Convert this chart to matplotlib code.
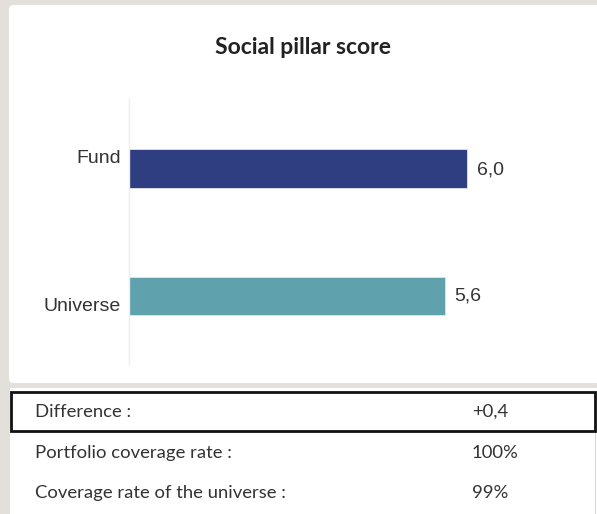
import matplotlib
matplotlib.use("Agg")
import matplotlib.pyplot as plt
from matplotlib.patches import Rectangle, FancyBboxPatch

categories = ["Fund", "Universe"]
values = [6.0, 5.6]
value_labels = ["6,0", "5,6"]
colors = ["#2f3e80", "#60a1ae"]
title = "Social pillar score"
table_labels = ["Difference :", "Portfolio coverage rate :", "Coverage rate of the universe :"]
table_values = ["+0,4", "100%", "99%"]

W, H = 597, 514
fig = plt.figure(figsize=(W / 100, H / 100), dpi=100)
fig.patch.set_facecolor("#e3dfdb")

def fx(px):
    return px / W

def fy(py):
    return 1 - py / H

# white card
fig.patches.append(FancyBboxPatch((fx(9), fy(383)), fx(620) - fx(9), fy(5) - fy(383),
                                  boxstyle="round,pad=0,rounding_size=0.008",
                                  transform=fig.transFigure, facecolor="white",
                                  edgecolor="none", zorder=-10))
# table area
fig.patches.append(Rectangle((fx(10), 0), 1 - fx(10), fy(388), transform=fig.transFigure,
                             facecolor="white", edgecolor="none", zorder=-10))
# thin right border of table
fig.lines.append(plt.Line2D([fx(594.5), fx(594.5)], [0, fy(432)], transform=fig.transFigure,
                            color="#d8d8d8", linewidth=0.8, zorder=-5))
# boxed difference row
fig.patches.append(Rectangle((fx(11), fy(431)), fx(595) - fx(11), fy(392) - fy(431),
                             transform=fig.transFigure, facecolor="none",
                             edgecolor="#111111", linewidth=2.0, zorder=5))

fig.text(fx(303), fy(47), title, ha="center", va="center", fontsize=16.5,
         fontweight="bold", color="#222222", family="Lato", zorder=5)

ax = fig.add_axes([fx(129), fy(365), fx(580) - fx(129), fy(98) - fy(365)])
ax.set_zorder(1)
ax.set_facecolor("none")
ypos = [1, 0]
ax.barh(ypos, values, height=0.305, color=colors, edgecolor="#dfe6f0", linewidth=0.6, zorder=2)
ax.set_xlim(0, 8)
ax.set_ylim(-0.54, 1.55)
for s in ["top", "right", "bottom"]:
    ax.spines[s].set_visible(False)
ax.spines["left"].set_color("#eeeeee")
ax.spines["left"].set_linewidth(1)
ax.set_xticks([])
ax.set_yticks([])

# category labels (Fund offset up, Universe offset down as in the reference)
label_offsets = [0.075, -0.085]
for y, c, off in zip(ypos, categories, label_offsets):
    ax.text(-0.14, y + off, c, ha="right", va="center", fontsize=14,
            color="#333333", family="Liberation Sans")
for y, v, lab in zip(ypos, values, value_labels):
    ax.text(v + 0.17, y - 0.015 if y == 1 else y + 0.0, lab, ha="left", va="center",
            fontsize=14, color="#333333", family="Liberation Sans")

row_y = [412, 453, 493]
for ry, lab, val in zip(row_y, table_labels, table_values):
    fig.text(fx(35), fy(ry), lab, ha="left", va="center", fontsize=13.3,
             color="#333333", family="Lato", zorder=5)
    fig.text(fx(472), fy(ry), val, ha="left", va="center", fontsize=13.3,
             color="#333333", family="Lato", zorder=5)

fig.savefig("out.png", dpi=100, facecolor=fig.get_facecolor())
